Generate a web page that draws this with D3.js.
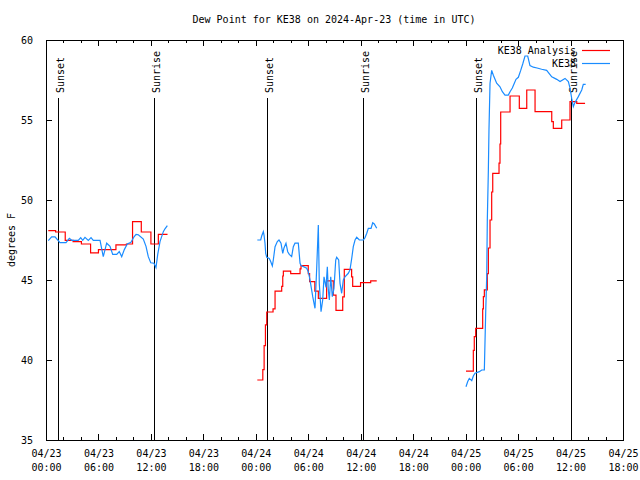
<!DOCTYPE html>
<html><head><meta charset="utf-8">
<script src="https://cdn.jsdelivr.net/npm/d3@7/dist/d3.min.js"></script>
<style>
html,body{margin:0;padding:0;background:#fff;}
svg{display:block;font-family:"DejaVu Sans Mono",monospace;font-size:10px;}
</style></head><body>
<svg id="c" width="640" height="480"></svg>
<script>
// ---- data (hours since 2024-04-23 00:00 UTC) ----
const chartTitle = "Dew Point for KE38 on 2024-Apr-23 (time in UTC)";
const yAxisLabel = "degrees F";
const seriesNames = ["KE38 Analysis", "KE38"];
const seriesColors = ["#ff0000", "#1a8cff"];

const xTickHours = [0, 6, 12, 18, 24, 30, 36, 42, 48, 54, 60, 66];
const xTickDates = ["04/23","04/23","04/23","04/23","04/24","04/24","04/24","04/24","04/25","04/25","04/25","04/25"];
const xTickTimes = ["00:00","06:00","12:00","18:00","00:00","06:00","12:00","18:00","00:00","06:00","12:00","18:00"];
const xMinorHours = d3.range(0, 67, 2);
const yTicks = [35, 40, 45, 50, 55, 60];

const sunHours = [1.4, 12.35, 25.3, 36.25, 49.2, 60.1];
const sunLabels = ["Sunset", "Sunrise", "Sunset", "Sunrise", "Sunset", "Sunrise"];

// KE38 Analysis (stepped), null = gap
const analysisHours = [
  0.26,1.1,2.2,3.1,4.05,5.1,6.0,8.0,9.2,9.9,10.9,12.0,12.85,13.9, null,
  24.17,24.8,24.95,25.1,25.25,25.97,26.2,26.96,27.08,27.15,27.99,29.06,29.17,30.0,30.15,30.75,31.15,32.1,32.86,33.17,33.94,34.12,34.96,35.08,35.98,37.14,37.83, null,
  48.04,48.88,48.99,49.15,49.95,50.03,50.14,50.48,50.6,50.79,50.98,51.1,51.82,51.93,52.01,53.08,54.14,54.99,55.94,57.85,58.03,58.99,59.94,60.71,61.66
];
const analysisValues = [
  48.08,48.0,47.48,47.4,47.25,46.7,46.9,47.2,47.25,48.65,48.0,47.25,47.85,47.85, null,
  38.75,39.4,40.9,42.2,43.0,43.2,44.3,44.6,45.25,45.55,45.4,45.7,45.9,45.4,44.9,44.3,43.85,44.95,44.05,43.1,43.95,45.67,45.2,44.6,44.83,44.95,44.95, null,
  39.3,40.6,41.46,41.98,43.2,43.96,44.38,45.4,47.0,48.75,50.5,51.67,52.3,53.5,55.5,56.5,55.73,56.875,55.52,54.9,54.48,55.0,56.15,56.04,56.04
];

// KE38 observations, null = gap
const obsHours = [
  0.26,0.65,1.03,1.6,2.29,2.67,2.94,3.69,3.97,4.2,4.46,4.84,5.15,5.41,6.18,6.55,6.94,7.32,7.63,8.09,8.38,8.66,8.96,9.3,9.72,10.07,10.3,10.56,11.13,11.44,11.7,11.98,12.35,12.58,12.78,13.04,13.42,13.61,13.88, null,
  24.17,24.56,24.67,24.86,24.94,25.05,25.13,25.25,25.54,25.7,25.89,26.0,26.2,26.46,26.65,26.88,27.08,27.22,27.45,27.65,27.83,28.1,28.29,28.48,28.86,29.06,29.17,29.82,30.0,30.2,30.51,30.77,30.97,31.15,31.26,31.46,31.65,31.8,32.03,32.18,32.29,32.41,32.57,32.75,32.94,33.14,33.25,33.48,33.63,33.82,34.01,34.2,34.58,34.77,34.97,35.15,35.35,35.54,35.84,36.3,36.49,36.69,36.87,37.18,37.37,37.55,37.83, null,
  48.04,48.24,48.42,48.7,48.88,49.07,49.57,49.84,50.14,50.22,50.3,50.41,50.48,50.6,50.67,50.79,50.98,51.17,51.55,51.93,52.2,52.5,52.88,53.08,53.34,53.57,53.76,54.03,54.3,54.53,54.79,55.1,55.36,55.74,56.17,56.7,57.27,57.85,58.42,58.8,59.37,59.75,59.94,60.13,60.32,60.51,60.89,61.28,61.46,61.73
];
const obsValues = [
  47.46,47.69,47.69,47.33,47.33,47.6,47.48,47.48,47.65,47.48,47.67,47.48,47.65,47.48,47.48,46.46,47.3,47.1,46.6,46.6,46.78,46.46,46.9,47.25,47.35,47.7,47.85,47.83,47.56,47.1,46.46,46.08,46.05,45.77,46.6,47.4,48.02,48.2,48.4, null,
  47.5,47.5,47.75,48.02,47.81,47.3,46.67,46.42,46.35,46.15,45.875,46.25,47.08,47.4,47.5,47.3,46.67,47.0,47.3,46.77,46.6,46.46,47.08,47.3,47.3,46.04,45.9,45.73,45.52,45.0,43.96,43.23,45.83,48.44,44.79,43.02,43.75,45.2,44.54,45.83,44.38,43.75,45.2,43.96,44.48,46.25,46.42,46.25,44.79,44.17,45.0,45.2,45.42,45.63,46.35,47.08,47.5,47.67,47.5,47.5,47.65,47.92,48.23,48.23,48.58,48.5,48.23, null,
  38.33,38.65,38.85,38.71,39.0,39.17,39.27,39.375,39.375,41.25,43.1,45.2,48.75,51.875,54.4,57.3,58.1,57.8,57.3,57.08,56.77,56.56,56.56,56.77,57.0,57.3,57.54,57.67,58.1,58.5,59.0,59.0,58.4,58.3,58.25,58.17,58.1,57.7,57.54,57.4,57.6,57.4,57.0,56.35,55.83,56.1,56.46,56.875,57.23,57.23
];

// ---- drawing ----
const svg = d3.select("#c");
const L = 46, R = 623, T = 40, B = 440;
const x = d3.scaleLinear().domain([0, 66]).range([L, R]);
const y = d3.scaleLinear().domain([35, 60]).range([B, T]);

svg.append("rect").attr("width", 640).attr("height", 480).attr("fill", "#fff");

// title
svg.append("text").attr("x", 334).attr("y", 23).attr("text-anchor", "middle").text(chartTitle);

// axes ticks (inward, mirrored)
function styleAxis(g) {
  g.select(".domain").remove();
  g.selectAll("line").attr("stroke", "#000").attr("shape-rendering", "crispEdges");
}
svg.append("g").attr("transform", `translate(0,${B})`)
  .call(d3.axisBottom(x).tickValues(xMinorHours).tickSize(-3).tickFormat(() => "")).call(styleAxis);
svg.append("g").attr("transform", `translate(0,${T})`)
  .call(d3.axisTop(x).tickValues(xMinorHours).tickSize(-3).tickFormat(() => "")).call(styleAxis);
const xb = svg.append("g").attr("transform", `translate(0,${B})`)
  .call(d3.axisBottom(x).tickValues(xTickHours).tickSize(-6).tickFormat(() => "")).call(styleAxis);
svg.append("g").attr("transform", `translate(0,${T})`)
  .call(d3.axisTop(x).tickValues(xTickHours).tickSize(-6).tickFormat(() => "")).call(styleAxis);
xb.selectAll(".tick text").each(function(d, i) {
  const t = d3.select(this).attr("y", null).attr("dy", null)
    .attr("fill", "#000").attr("font-family", "DejaVu Sans Mono, monospace").attr("font-size", 10);
  t.append("tspan").attr("x", 0).attr("y", 17).text(xTickDates[i]);
  t.append("tspan").attr("x", 0).attr("y", 31).text(xTickTimes[i]);
});

const yl = svg.append("g").attr("transform", `translate(${L},0)`)
  .call(d3.axisLeft(y).tickValues(yTicks).tickSize(-6).tickPadding(13)).call(styleAxis);
yl.selectAll(".tick text").attr("fill", "#000").attr("font-family", "DejaVu Sans Mono, monospace").attr("font-size", 10).attr("dy", "0.35em");
svg.append("g").attr("transform", `translate(${R},0)`)
  .call(d3.axisRight(y).tickValues(yTicks).tickSize(-6).tickFormat(() => "")).call(styleAxis);

// y label
svg.append("text").attr("transform", `translate(15,240) rotate(-90)`).attr("text-anchor", "middle").text(yAxisLabel);

// sun lines
sunHours.forEach((h, i) => {
  const sx = Math.round(x(h)) + 0.5;
  svg.append("line").attr("x1", sx).attr("x2", sx).attr("y1", 98).attr("y2", B)
    .attr("stroke", "#000").attr("stroke-width", 1);
  svg.append("text").attr("transform", `translate(${sx + 5.5},93) rotate(-90)`).text(sunLabels[i]);
});

// series
function pts(hs, vs) { return hs.map((h, i) => ({h, v: vs[i]})); }
const stepLine = d3.line().defined(d => d.v != null && d.h != null)
  .x(d => x(d.h)).y(d => y(d.v)).curve(d3.curveStepAfter);
const plainLine = d3.line().defined(d => d.v != null && d.h != null)
  .x(d => x(d.h)).y(d => y(d.v));

svg.append("path").datum(pts(analysisHours, analysisValues)).attr("d", stepLine)
  .attr("fill", "none").attr("stroke", seriesColors[0]).attr("stroke-width", 1.2);
svg.append("path").datum(pts(obsHours, obsValues)).attr("d", plainLine)
  .attr("fill", "none").attr("stroke", seriesColors[1]).attr("stroke-width", 1.2);

// frame
svg.append("rect").attr("x", L + 0.5).attr("y", T + 0.5).attr("width", R - L).attr("height", B - T)
  .attr("fill", "none").attr("stroke", "#000").attr("shape-rendering", "crispEdges");

// legend
const legend = svg.append("g");
seriesNames.forEach((n, i) => {
  const ly = 50 + i * 13;
  legend.append("text").attr("x", 576).attr("y", ly + 4).attr("text-anchor", "end").text(n);
  legend.append("line").attr("x1", 582).attr("x2", 610).attr("y1", ly + 0.5).attr("y2", ly + 0.5)
    .attr("stroke", seriesColors[i]).attr("stroke-width", 1.2);
});
</script>
</body></html>
